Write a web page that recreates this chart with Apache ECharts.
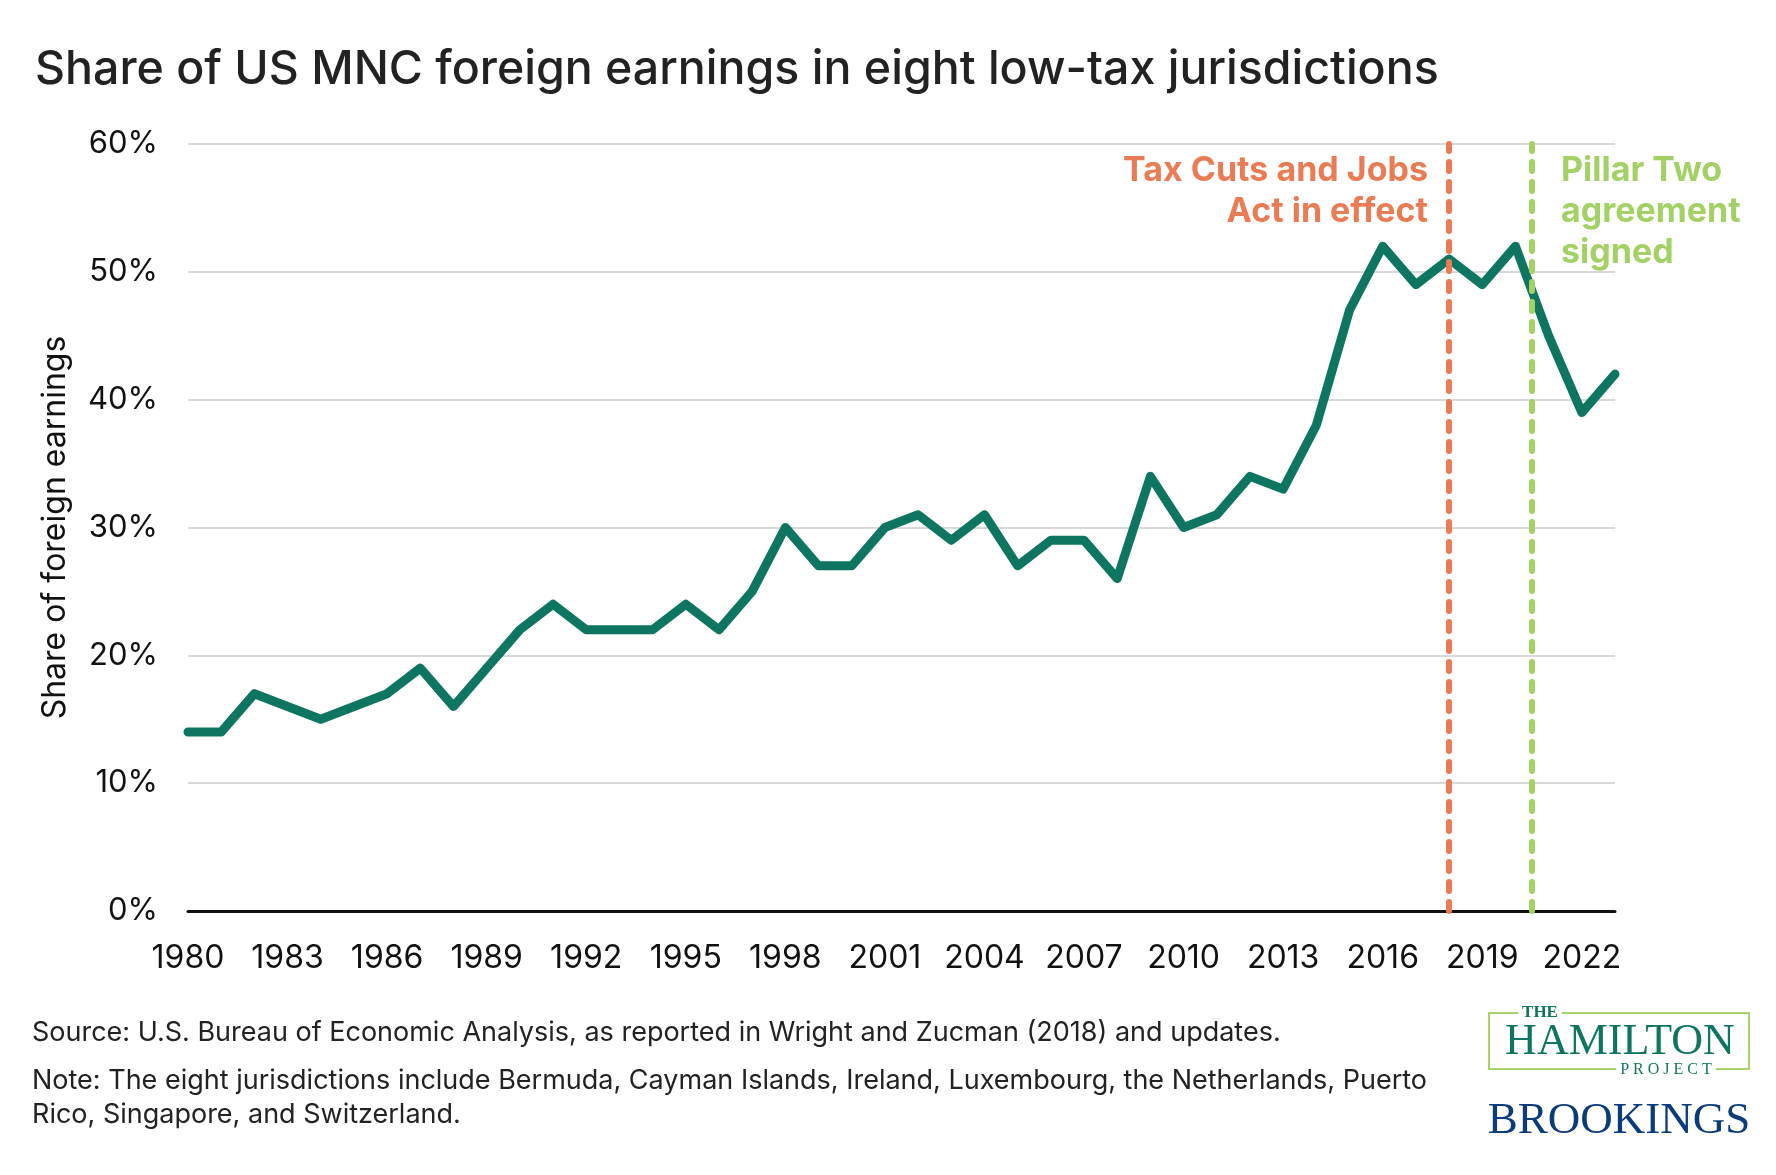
<!DOCTYPE html>
<html>
<head>
<meta charset="utf-8">
<script src="https://cdn.jsdelivr.net/npm/echarts@6/dist/echarts.min.js"></script>
<style>
  html, body { margin: 0; padding: 0; background: #fff; }
  #chart-container { width: 1776px; height: 1175px; }
</style>
</head>
<body>
<div id="chart-container"></div>
<script>
var dom = document.getElementById("chart-container");
var myChart = echarts.init(dom, null, { renderer: "canvas" });

var chart_title = "Share of US MNC foreign earnings in eight low-tax jurisdictions";
var years = [
  1980, 1981, 1982, 1983, 1984, 1985, 1986, 1987, 1988, 1989,
  1990, 1991, 1992, 1993, 1994, 1995, 1996, 1997, 1998, 1999,
  2000, 2001, 2002, 2003, 2004, 2005, 2006, 2007, 2008, 2009,
  2010, 2011, 2012, 2013, 2014, 2015, 2016, 2017, 2018, 2019,
  2020, 2021, 2022, 2023
];
var share = [
  14, 14, 17, 16, 15, 16, 17, 19, 16, 19,
  22, 24, 22, 22, 22, 24, 22, 25, 30, 27,
  27, 30, 31, 29, 31, 27, 29, 29, 26, 34,
  30, 31, 34, 33, 38, 47, 52, 49, 51, 49,
  52, 45, 39, 42
];
// event lines (year positions)
var events = [
  { name: "Tax Cuts and Jobs\nAct in effect", year: 2018, color: "#e97c55" },
  { name: "Pillar Two\nagreement\nsigned", year: 2020.5, color: "#a4d165" }
];
var source_text = "Source: U.S. Bureau of Economic Analysis, as reported in Wright and Zucman (2018) and updates.";
var note_text = "Note: The eight jurisdictions include Bermuda, Cayman Islands, Ireland, Luxembourg, the Netherlands, Puerto\nRico, Singapore, and Switzerland.";

var FONT = "Inter";
var teal = "#0e7561";

var option = {
  backgroundColor: "#fff",
  animation: false,
  title: {
    text: chart_title,
    left: 30,
    top: 42,
    textStyle: {
      fontFamily: FONT,
      fontSize: 46.5,
      fontWeight: 500,
      color: "#222",
    },
  },
  grid: {
    left: 188,
    right: 161,
    top: 144,
    bottom: 264,
  },
  xAxis: {
    type: "value",
    min: 1980,
    max: 2023,
    interval: 3,
    axisLine: { show: true, onZero: true, lineStyle: { color: "#111", width: 3 } },
    axisTick: { show: false },
    splitLine: { show: false },
    axisLabel: {
      showMaxLabel: false,
      margin: 31,
      fontFamily: FONT,
      fontSize: 32,
      color: "#111",
      formatter: function (v) { return String(v); },
    },
  },
  yAxis: {
    type: "value",
    min: 0,
    max: 60,
    interval: 10,
    name: "Share of foreign earnings",
    nameLocation: "middle",
    nameGap: 117,
    nameTextStyle: { fontFamily: FONT, fontSize: 32, color: "#111" },
    axisLine: { show: false },
    axisTick: { show: false },
    splitLine: { lineStyle: { color: "#d9d9d9", width: 2 } },
    axisLabel: {
      margin: 30,
      fontFamily: FONT,
      fontSize: 31,
      color: "#111",
      formatter: "{value}%",
    },
  },
  series: [
    {
      type: "line",
      data: years.map(function (y, i) { return [y, share[i]]; }),
      symbol: "none",
      lineStyle: { color: teal, width: 9, join: "round", cap: "round" },
      z: 3,
      markLine: {
        silent: true,
        symbol: "none",
        z: 5,
        label: { show: false },
        data: events.map(function (e) {
          return {
            xAxis: e.year,
            lineStyle: { color: e.color, width: 6, type: [9, 11], cap: "round" },
          };
        }),
      },
    },
  ],
  graphic: [
    {
      type: "text",
      style: {
        x: 1428, y: 150,
        text: events[0].name,
        textAlign: "right",
        textVerticalAlign: "top",
        font: "bold 34px " + FONT,
        lineHeight: 41,
        fill: events[0].color,
      },
    },
    {
      type: "text",
      style: {
        x: 1561, y: 150,
        text: events[1].name,
        textAlign: "left",
        textVerticalAlign: "top",
        font: "bold 34px " + FONT,
        lineHeight: 41,
        fill: events[1].color,
      },
    },
    {
      type: "text",
      style: {
        x: 32, y: 1033,
        text: source_text,
        textVerticalAlign: "middle",
        font: "27px " + FONT,
        fill: "#222",
      },
    },
    {
      type: "text",
      style: {
        x: 32, y: 1064,
        text: note_text,
        textVerticalAlign: "top",
        font: "27px " + FONT,
        lineHeight: 34,
        fill: "#222",
      },
    },
    // Hamilton Project logo
    {
      type: "rect",
      shape: { x: 1489, y: 1013, width: 260, height: 56 },
      style: { fill: null, stroke: "#a9d26e", lineWidth: 2 },
    },
    {
      type: "text",
      style: {
        x: 1540, y: 1013, text: "THE",
        textAlign: "center", textVerticalAlign: "middle",
        font: "bold 17px 'Liberation Serif'", fill: teal,
        backgroundColor: "#fff", padding: [0, 4],
      },
    },
    {
      type: "text",
      style: {
        x: 1620, y: 1042, text: "HAMILTON",
        textAlign: "center", textVerticalAlign: "middle",
        font: "44px 'Liberation Serif'", fill: teal,
      },
    },
    {
      type: "text",
      style: {
        x: 1666, y: 1070, text: "P R O J E C T",
        textAlign: "center", textVerticalAlign: "middle",
        font: "16px 'Liberation Serif'", fill: teal,
        backgroundColor: "#fff", padding: [0, 4],
      },
    },
    {
      type: "text",
      style: {
        x: 1619, y: 1121, text: "BROOKINGS",
        textAlign: "center", textVerticalAlign: "middle",
        font: "45px 'Liberation Serif'", fill: "#0b3b7a",
      },
    },
  ],
};

myChart.setOption(option);
</script>
</body>
</html>
